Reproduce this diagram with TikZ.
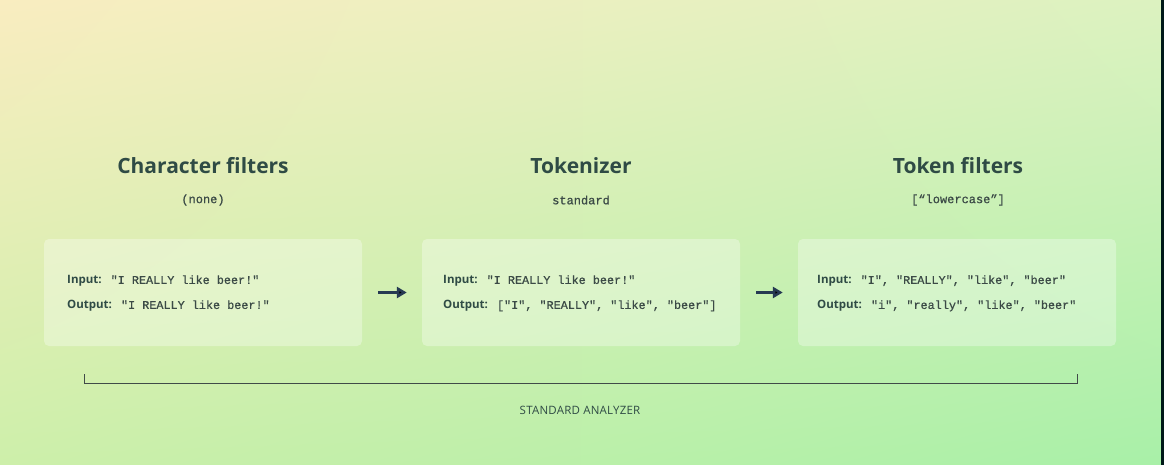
\documentclass[tikz,border=0pt]{standalone}
\usepackage{xcolor}
\usepackage{fontspec}
\setmainfont{Open Sans}
\setmonofont{Liberation Mono}
\newfontfamily\codefont[FakeBold=0.7]{Liberation Mono}
\newfontfamily\capsfont[LetterSpace=2]{Open Sans}
\usetikzlibrary{arrows.meta, shadings}
\definecolor{ink}{HTML}{2F4B45}
\definecolor{code}{HTML}{3B4A46}
\definecolor{arrowc}{HTML}{263A52}
\definecolor{rule}{HTML}{404A48}
\definecolor{bgtl}{HTML}{F9EDC0}
\definecolor{bgtr}{HTML}{DCF2C0}
\definecolor{bgbl}{HTML}{CDEFAA}
\definecolor{bgbr}{HTML}{A8F0A8}
\tikzset{
  title/.style={text=ink, font=\fontsize{21}{25}\selectfont\bfseries},
  sub/.style={text=code, font=\fontsize{12}{14}\selectfont\codefont},
  card/.style={fill=white, fill opacity=0.32, rounded corners=5pt,
    minimum width=318pt, minimum height=107pt, inner sep=0pt},
  line/.style={anchor=west, inner sep=0pt, text=code,
    font=\fontsize{11.8}{14}\selectfont\codefont},
  flow/.style={-{Triangle[length=10pt,width=11pt]}, line width=3.2pt, draw=arrowc,
    shorten <=16pt, shorten >=15pt},
}
\newcommand{\lbl}[1]{{\fontsize{11.5}{14}\selectfont\rmfamily\bfseries\color{ink}#1}\hspace{9pt}}

\begin{document}
\begin{tikzpicture}[x=1pt, y=-1pt]
\useasboundingbox (0,0) rectangle (1164,465);
\shade[upper left=bgtl, upper right=bgtr, lower left=bgbl, lower right=bgbr]
  (0,0) rectangle (1164,465);
\fill[black!80!teal] (1161,0) rectangle (1164,465);
% stage headings
\node[title] at(203,166)(cf){Character filters};
\node[title] at(581,166)(tk){Tokenizer};
\node[title] at(958,166)(tf){Token filters};
\node[sub] at(203,200)(cfs){(none)};
\node[sub] at(581,200)(tks){standard};
\node[sub] at(958,200)(tfs){[“lowercase”]};
% cards
\node[card] at(203,292.5)(cfb){};
\node[card] at(581,292.5)(tkb){};
\node[card] at(957,292.5)(tfb){};
\node[line] at(67,281)(cfi){\lbl{Input:}"I REALLY like beer!"};
\node[line] at(67,306)(cfo){\lbl{Output:}"I REALLY like beer!"};
\node[line] at(443,281)(tki){\lbl{Input:}"I REALLY like beer!"};
\node[line] at(443,306)(tko){\lbl{Output:}["I", "REALLY", "like", "beer"]};
\node[line] at(817,281)(tfi){\lbl{Input:}"I", "REALLY", "like", "beer"};
\node[line] at(817,306)(tfo){\lbl{Output:}"i", "really", "like", "beer"};
\path[flow]
    (cfb) edge (tkb)
    (tkb) edge (tfb);
% analyzer bracket
\coordinate (bl) at(84,374);
\coordinate (br) at(1077,374);
\draw[rule, line width=1pt] (bl) -- ++(0,9) -| (br);
\node[text=ink, font=\capsfont\fontsize{11.5}{13}\selectfont] at(580,410)(sa){STANDARD ANALYZER};
\end{tikzpicture}
\end{document}
